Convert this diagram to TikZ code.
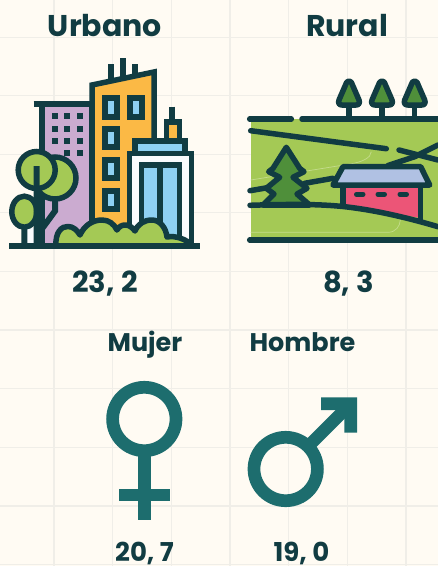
\documentclass[tikz,border=0pt]{standalone}
\usepackage{fontspec}
\setmainfont{Poppins}[BoldFont={Poppins Bold}]
\definecolor{bg}{HTML}{FFFBF3}
\definecolor{gridc}{HTML}{F0EEE8}
\definecolor{ink}{HTML}{113C42}
\definecolor{teal}{HTML}{1D6D6E}
\definecolor{leaf}{HTML}{A4C955}
\definecolor{pine}{HTML}{4F8F3A}
\definecolor{purp}{HTML}{CBABD0}
\definecolor{oran}{HTML}{FBB945}
\definecolor{sky}{HTML}{8ED1F3}
\definecolor{paper}{HTML}{F9FBFD}
\definecolor{roof}{HTML}{B0C1E3}
\definecolor{barn}{HTML}{EC5577}
\definecolor{faint}{HTML}{C4DC8C}
\tikzset{
 ol/.style={draw=ink,line width=5.5pt,line join=miter},
 rl/.style={draw=ink,line width=5.5pt,line cap=round,line join=round},
 title/.style={font=\bfseries\fontsize{30}{30}\selectfont,text=ink,inner sep=0pt,anchor=base},
 sub/.style={font=\bfseries\fontsize{25.5}{25.5}\selectfont,text=ink,inner sep=0pt,anchor=base},
 val/.style={font=\bfseries\fontsize{29}{29}\selectfont,text=ink,inner sep=0pt,anchor=base},
 valb/.style={font=\bfseries\fontsize{26}{26}\selectfont,text=ink,inner sep=0pt,anchor=base},
 gender/.style={draw=teal,line width=12.7pt},
 win/.style={draw=ink,fill=sky,line width=6pt},
}
\begin{document}
\begin{tikzpicture}[x=1pt,y=-1pt]
\useasboundingbox (0,0) rectangle (438,566);
\fill[bg] (0,0) rectangle (438,566);
\foreach \x in {54,112.7,171.3,230,288.7,347.3,406} \draw[gridc,line width=1.2pt] (\x,0)--(\x,566);
\foreach \y in {37.5,95.7,154.3,212.7,271.3,330,388.7,447.3,506,564.6} \draw[gridc,line width=1.2pt] (0,\y)--(438,\y);
% ---- urban
\fill[paper] (27,228) rectangle (38,246);
\draw[ol,fill=purp] (42,246)--(42,103.5)--(92,103.5)--(92,246)--cycle;
\draw[ink,line width=6pt] (33.5,103.5)--(92,103.5);
\foreach \x in {55,67.3,80} \foreach \y in {116.3,128.7,141} \fill[ink] (\x-3,\y-3) rectangle (\x+3,\y+3);
\foreach \x in {67.3,80} \fill[ink] (\x-3,150.3) rectangle (\x+3,156.3);
\draw[ink,line width=6pt] (111,64)--(111,82) (123,58)--(123,80) (135,64)--(135,77);
\draw[ol,fill=oran] (92,246)--(92,85)--(154,72)--(154,246)--cycle;
\foreach \a/\b in {105/117,130/142} \draw[win] (\a,98)rectangle(\b,116.5);
\foreach \a/\b in {128.7/147,159.7/178,190.7/209} \draw[win] (105,\a)rectangle(117,\b);
\draw[ink,line width=6pt] (172.3,106.7)--(172.3,123);
\draw[ol,fill=oran] (166.5,140)--(166.5,122)--(179.5,122)--(179.5,140);
\draw[ol,fill=sky] (135,153)--(135,141)--(185,141)--(185,153);
\draw[ol,fill=paper] (129.5,246)--(129.5,153.3)--(191.3,153.3)--(191.3,246);
\draw[ol,fill=sky] (141.3,246)--(141.3,165)--(179.3,165)--(179.3,246);
\draw[ink,line width=6pt] (160,165)--(160,246);
% trees
\draw[ol,fill=leaf] (55,178) circle (21);
\draw[ol,fill=leaf] (36.7,170) circle (18.5);
\draw[ol,fill=leaf] (24.3,211.7) ellipse (12.5 and 15.5);
\draw[ink,line width=6pt] (36.7,166)--(36.7,246) (36.7,236)--(55,211)--(55,199) (24.3,228)--(24.3,246);
% bushes
\draw[ol,fill=leaf,line join=round] (56,246) .. controls (55,232) and (62,226) .. (68,226.5)
 .. controls (73,226.5) and (77,230) .. (80,235) .. controls (84,226) and (92,220) .. (102,220)
 .. controls (109,220) and (114,224) .. (117,230) .. controls (119,226) and (123,225) .. (125,225)
 .. controls (129,225) and (132,227) .. (135,231) .. controls (138,224) and (144,220) .. (152,220)
 .. controls (160,220) and (166,228) .. (167,237) .. controls (172,236) and (176,237) .. (180,238)
 .. controls (186,240) and (190,243) .. (193,246) -- cycle;
\draw[ink,line width=6pt] (9,246)--(200,246);
% ---- rural
\fill[leaf] (250.7,119) rectangle (438,240);
\draw[faint,line width=.7pt] (250.7,232.3)--(388,232.3) .. controls (396,232.3) and (400,226) .. (400.3,220);
\draw[faint,line width=.7pt] (250.7,180)--(350,164) .. controls (362,162) and (371,158) .. (371.3,151.7);
\foreach \x in {349,382,414.7} {
 \draw[rl,line width=5.5pt] (\x,105)--(\x,119);
 \draw[rl,fill=pine] (\x,81) .. controls (\x+2,81) and (\x+3,83) .. (\x+3.5,85) -- (\x+10,100) .. controls (\x+11,103) and (\x+10,105) .. (\x+7,105)
  -- (\x-7,105) .. controls (\x-10,105) and (\x-11,103) .. (\x-10,100) -- (\x-3.5,85) .. controls (\x-3,83) and (\x-2,81) .. (\x,81) -- cycle;
}
\draw[rl] (249.7,119)--(291.3,119) (302,119)--(438,119);
\draw[rl] (249.7,240)--(438,240);
\draw[rl] (250.7,130.7)--(386.3,148.7);
\draw[rl] (399,150)--(438,160);
\draw[rl] (438,145)--(414.7,156.7)--(388,165.5);
\draw[rl] (250,190.7)--(269.7,187.3) (304.7,183.3)--(333,178.3);
\draw[rl,fill=pine] (286.3,147.3)--(299.7,168.3)--(304,171.7)--(293,177.3)--(307,188.3)--(297,194)--(309.7,205)--(263,205)--(274,194)--(266.3,188.3)--(279.7,177.3)--(268.7,171.7)--(273,168.3)--cycle;
\fill[barn] (343,185)--(420.7,185)--(420.7,218)--(343,205)--cycle;
\draw[ink,line width=5.5pt] (343,185)--(343,207) (420.7,185)--(420.7,220);
\draw[rl,line width=5pt] (356.5,194.3)--(363,194.3) (378,194.3)--(384.5,194.3) (400,194.3)--(406.5,194.3);
\draw[rl] (250,205.3) .. controls (290,204) and (320,204) .. (344.7,206.7) .. controls (365,209) and (395,214) .. (438,226.7);
\draw[rl,fill=roof] (343,166.7)--(420.7,166.7)--(429.7,185)--(333,185)--cycle;
% ---- gender
\draw[gender] (144.3,419) circle (31.7);
\draw[gender] (144.3,450)--(144.3,520);
\draw[gender] (119,495)--(169.7,495);
\draw[gender] (285.7,469) circle (31.7);
\draw[gender] (308,446.5)--(350,404.5);
\fill[teal] (321,397.3)--(357,397.3)--(357,432.7)--(344.3,432.7)--(344.3,410)--(321,410)--cycle;
% ---- labels
\node[title] (urb) at (105,36) {Urbano};
\node[title] (rur) at (347,36) {Rural};
\node[val] (v1) at (105,292) {23, 2};
\node[val] (v2) at (348.5,292) {8, 3};
\node[sub] (muj) at (145,351) {Mujer};
\node[sub] (hom) at (302.5,351) {Hombre};
\node[valb] (v3) at (144.5,561) {20, 7};
\node[valb] (v4) at (301.5,561) {19, 0};
\end{tikzpicture}
\end{document}
